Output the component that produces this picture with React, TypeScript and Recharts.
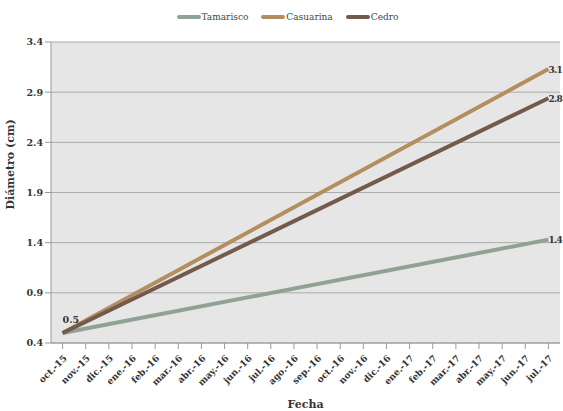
import { LineChart, Line, XAxis, YAxis, CartesianGrid, Legend } from "recharts";

const fechas = [
  "oct.-15", "nov.-15", "dic.-15", "ene.-16", "feb.-16", "mar.-16", "abr.-16", "may.-16",
  "jun.-16", "jul.-16", "ago.-16", "sep.-16", "oct.-16", "nov.-16", "dic.-16", "ene.-17",
  "feb.-17", "mar.-17", "abr.-17", "may.-17", "jun.-17", "jul.-17",
];

// only the first and last measurement are plotted, lines join them
const tamarisco = [0.5, 1.43];
const casuarina = [0.5, 3.13];
const cedro = [0.5, 2.84];

const yTicks = [0.4, 0.9, 1.4, 1.9, 2.4, 2.9, 3.4];

const series = [
  { key: "Tamarisco", color: "#8fa394", values: tamarisco },
  { key: "Casuarina", color: "#b38f60", values: casuarina },
  { key: "Cedro", color: "#735a4d", values: cedro },
];

const data = fechas.map((f, i) => {
  const row: Record<string, string | number | null> = { fecha: f };
  const last = fechas.length - 1;
  series.forEach((s) => {
    row[s.key] = i === 0 ? s.values[0] : i === last ? s.values[1] : null;
  });
  return row;
});

const FONT = "DejaVu Serif";

const XTick = (props: any) => {
  const { x, y, payload } = props;
  return (
    <text
      x={x + 3}
      y={y + 6}
      transform={`rotate(-45, ${x + 3}, ${y + 6})`}
      textAnchor="end"
      dominantBaseline="middle"
      fontFamily={FONT}
      fontSize={9}
      fontWeight="bold"
      fill="#333"
    >
      {payload.value}
    </text>
  );
};

const makeLabel = (showFirst: boolean) => (props: any) => {
  const { x, y, value, index } = props;
  if (value == null) return null;
  if (index === 0) {
    if (!showFirst) return null;
    return (
      <text x={x} y={y - 10} fontFamily={FONT} fontSize={9.5} fontWeight="bold" fill="#333">
        {Number(value).toFixed(1)}
      </text>
    );
  }
  return (
    <text
      x={x}
      y={y + 1}
      dominantBaseline="middle"
      fontFamily={FONT}
      fontSize={9}
      fontWeight="bold"
      letterSpacing={-0.6}
      fill="#333"
    >
      {Number(value).toFixed(1)}
    </text>
  );
};

const LegendContent = () => (
  <div style={{ display: "flex", justifyContent: "center", height: 20, alignItems: "center", paddingLeft: 28 }}>
    {series.map((s) => (
      <div key={s.key} style={{ display: "flex", alignItems: "center", marginRight: 13 }}>
        <div style={{ width: 24, height: 4, background: s.color, borderRadius: 2 }} />
        <span style={{ fontFamily: FONT, fontSize: 9, color: "#444", paddingLeft: 1 }}>{s.key}</span>
      </div>
    ))}
  </div>
);

export default function App() {
  return (
    <div style={{ position: "absolute", left: 0, top: 0, width: 563, height: 411, background: "#fff" }}>
      <LineChart width={563} height={411} data={data} margin={{ top: 22, right: 3, bottom: 0, left: 0 }}>
        <CartesianGrid vertical={false} stroke="#ababab" fill="#e6e6e6" />
        <XAxis
          dataKey="fecha"
          interval={0}
          height={68}
          padding={{ left: 11.6, right: 11.6 }}
          tick={<XTick />}
          tickLine={{ stroke: "#999" }}
          axisLine={{ stroke: "#999" }}
          label={{ value: "Fecha", position: "insideBottom", offset: 3, fontFamily: FONT, fontSize: 11, fontWeight: "bold", fill: "#333" }}
        />
        <YAxis
          width={51}
          domain={[0.4, 3.4]}
          ticks={yTicks}
          tickFormatter={(v: number) => v.toFixed(1)}
          tick={{ fontFamily: FONT, fontSize: 9.5, fontWeight: "bold", fill: "#333" }}
          tickLine={{ stroke: "#999" }}
          axisLine={{ stroke: "#999" }}
          label={{ value: "Diámetro (cm)", angle: -90, position: "insideLeft", offset: 10, dy: 17, fontFamily: FONT, fontSize: 11, fontWeight: "bold", fill: "#333" }}
        />
        <Legend verticalAlign="top" content={<LegendContent />} wrapperStyle={{ top: 7 }} />
        {series.map((s, i) => (
          <Line
            key={s.key}
            type="linear"
            dataKey={s.key}
            stroke={s.color}
            strokeWidth={4}
            dot={false}
            connectNulls
            isAnimationActive={false}
            label={makeLabel(i === 2)}
          />
        ))}
      </LineChart>
    </div>
  );
}
